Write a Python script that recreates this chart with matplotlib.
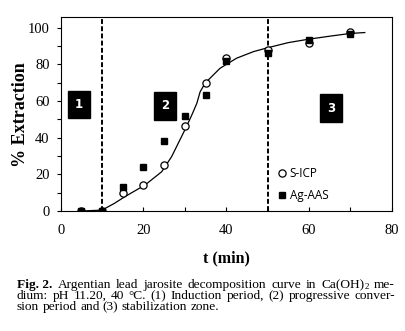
import matplotlib.pyplot as plt
from matplotlib.ticker import MultipleLocator

# measured points
t_min = [5, 10, 15, 20, 25, 30, 35, 40, 50, 60, 70]
s_icp = [0, 0, 9.6, 14.2, 25.1, 46.5, 69.8, 83.3, 88, 91.8, 97.5]
ag_aas = [0, 0, 12.9, 23.8, 38.2, 51.8, 63, 81.8, 86, 93.3, 96.5]

# fitted curve
curve_t = [5, 10, 13, 15.5, 20.4, 24.4, 26.8, 30.4, 31.7, 32.9, 33.7, 34.9,
           38.5, 42.5, 46.6, 50, 55, 60, 65, 70, 73.5]
curve_y = [0, 0.5, 4.2, 7.8, 14.2, 21.4, 29.6, 46, 52.4, 58.7, 65, 69.7,
           77.8, 83.3, 86.9, 89, 91.8, 93.7, 95.3, 96.8, 97.3]

period_bounds = [10, 50]
zone_labels = ['1', '2', '3']
zone_pos = [(4.4, 58), (25.2, 57.4), (65.3, 56)]

# words of the caption; a tuple is (text, subscript)
caption_lines = [
    ['Argentian', 'lead', 'jarosite', 'decomposition', 'curve', 'in', ('Ca(OH)', '2'), 'me-'],
    ['dium:', 'pH', '11.20,', '40', '\u00b0C.', '(1)', 'Induction', 'period,', '(2)',
     'progressive', 'conver-'],
    ['sion', 'period', 'and', '(3)', 'stabilization', 'zone.'],
]

serif = 'Liberation Serif'
W, H = 406, 331

fig = plt.figure(figsize=(W / 100, H / 100), dpi=100)
ax = fig.add_axes([0.1495, 0.3625, 0.8153, 0.5852])

ax.plot(curve_t, curve_y, color='black', lw=0.9, zorder=2)
ax.plot(t_min, s_icp, 'o', ms=5.2, mfc='white', mec='black', mew=0.9,
        label='S-ICP', zorder=3)
ax.plot(t_min, ag_aas, 's', ms=4.2, color='black', label='Ag-AAS', zorder=4)

for xb in period_bounds:
    ax.axvline(xb, color='black', lw=1.4, ls=(0, (2.5, 1.2)), zorder=1)

for lab, (x, y) in zip(zone_labels, zone_pos):
    ax.text(x, y, lab, color='white', fontsize=8.5, fontweight='bold',
            family='DejaVu Sans', ha='center', va='center',
            bbox=dict(boxstyle='square,pad=0.62', fc='black', ec='black'))

ax.set_xlim(0, 80)
ax.set_ylim(0, 105.6)
ax.xaxis.set_major_locator(MultipleLocator(20))
ax.xaxis.set_minor_locator(MultipleLocator(10))
ax.yaxis.set_major_locator(MultipleLocator(20))
ax.yaxis.set_minor_locator(MultipleLocator(10))
ax.tick_params(axis='x', which='both', direction='in', length=3, width=0.8, pad=9)
ax.tick_params(axis='y', which='both', direction='out', length=3, width=0.8, pad=5)
ax.tick_params(labelsize=10.5)
for lbl in ax.get_xticklabels() + ax.get_yticklabels():
    lbl.set_family(serif)
for sp in ax.spines.values():
    sp.set_linewidth(0.8)

ax.set_xlabel('t (min)', family=serif, fontweight='bold', fontsize=11.5, labelpad=10)
ax.set_ylabel('% Extraction', family=serif, fontweight='bold', fontsize=13)
ax.yaxis.label.set_va('center')
ax.yaxis.set_label_coords(-0.12, 0.5)

leg = ax.legend(loc='lower right', bbox_to_anchor=(0.83, 0.01), frameon=False,
                prop={'family': 'Open Sans', 'size': 8.5}, handlelength=0.6,
                handletextpad=0.35, labelspacing=0.75, borderaxespad=0.2)

# caption, justified between two edges
cap_size = 9.6
sub_size = 6.5
left_px, right_px = 17, 395
line_y = [288, 299, 310]
fig.canvas.draw()
r = fig.canvas.get_renderer()

probe1 = fig.text(0, 0, 'a b', family=serif, fontsize=cap_size)
probe2 = fig.text(0, 0, 'ab', family=serif, fontsize=cap_size)
space_w = probe1.get_window_extent(r).width - probe2.get_window_extent(r).width
probe1.remove()
probe2.remove()


def put_line(words, y_px, justify, prefix=None):
    items = []  # (main text, sub text or None)
    if prefix is not None:
        items.append((fig.text(0, 1 - y_px / H, prefix, family=serif, fontweight='bold',
                               fontsize=cap_size, va='baseline'), None))
    for wd in words:
        sub = None
        if isinstance(wd, tuple):
            wd, s = wd
            sub = fig.text(0, 1 - (y_px + 1) / H, s, family=serif,
                           fontsize=sub_size, va='baseline')
        items.append((fig.text(0, 1 - y_px / H, wd, family=serif,
                               fontsize=cap_size, va='baseline'), sub))
    widths = []
    for t, s in items:
        wdt = t.get_window_extent(r).width
        if s is not None:
            wdt += s.get_window_extent(r).width
        widths.append(wdt)
    if justify:
        gap = (right_px - left_px - sum(widths)) / (len(items) - 1)
    else:
        gap = space_w
    x = left_px
    for (t, s), wdt in zip(items, widths):
        t.set_x(x / W)
        if s is not None:
            s.set_x((x + t.get_window_extent(r).width) / W)
        x += wdt + gap


put_line(caption_lines[0], line_y[0], True, prefix='Fig. 2.')
put_line(caption_lines[1], line_y[1], True)
put_line(caption_lines[2], line_y[2], False)

fig.savefig('out.png', dpi=100)
